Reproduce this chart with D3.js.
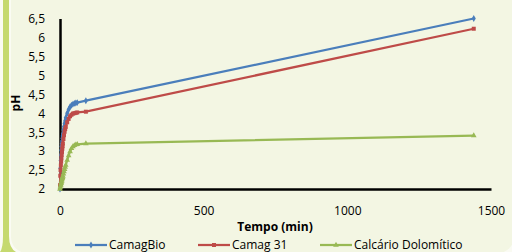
<!DOCTYPE html>
<html>
<head>
<meta charset="utf-8">
<script src="https://cdn.jsdelivr.net/npm/d3@7"></script>
<style>
	body { margin: 0; background: #fafbf3; }
	text { font-family: "Open Sans", sans-serif; }
</style>
</head>
<body>
<div id="chart"></div>
<script>
// tempo (min)
var tempo = [0, 1, 2, 3, 4, 5, 6, 7, 8, 9, 10, 12, 14, 16, 18, 20, 25, 30, 35, 40, 45, 50, 55, 60, 90, 1440];

var camagBio = [2.0, 2.55, 2.75, 2.9, 3.02, 3.12, 3.2, 3.27, 3.34, 3.4, 3.46, 3.56, 3.65, 3.73, 3.8, 3.88, 4.0, 4.1, 4.17, 4.21, 4.24, 4.26, 4.27, 4.28, 4.33, 6.5];
var camag31 = [2.1, 2.35, 2.5, 2.62, 2.72, 2.81, 2.9, 2.98, 3.06, 3.13, 3.2, 3.32, 3.42, 3.51, 3.58, 3.64, 3.76, 3.85, 3.92, 3.96, 3.99, 4.0, 4.01, 4.02, 4.04, 6.23];
var calcario = [2.0, 2.04, 2.08, 2.11, 2.15, 2.18, 2.21, 2.25, 2.28, 2.31, 2.34, 2.4, 2.46, 2.52, 2.58, 2.63, 2.76, 2.88, 2.99, 3.07, 3.12, 3.15, 3.17, 3.18, 3.2, 3.41];

var xTicks = [0, 500, 1000, 1500];
var yTicks = [2, 2.5, 3, 3.5, 4, 4.5, 5, 5.5, 6, 6.5];

var series = [
	{name: 'CamagBio', values: camagBio, color: '#4a7ebb', symbol: d3.symbolDiamond, size: 14},
	{name: 'Camag 31', values: camag31, color: '#be4b48', symbol: d3.symbolSquare, size: 16},
	{name: 'Calcário Dolomítico', values: calcario, color: '#98b954', symbol: d3.symbolTriangle, size: 14}
];

var width = 512, height = 252;

var svg = d3.select('#chart').append('svg')
	.attr('width', width)
	.attr('height', height);

// panel background
svg.append('rect')
	.attr('x', 11).attr('y', -30)
	.attr('width', 503).attr('height', 283)
	.attr('rx', 16).attr('ry', 16)
	.attr('fill', '#f3f6e3');

// green border on the left, flaring at the bottom
svg.append('path')
	.attr('d', 'M3,0 L9,0 L9,236 Q9,248 16,252 L0,252 Q3,248 3,236 Z')
	.attr('fill', '#c5d96f');

var x = d3.scaleLinear().domain([0, 1500]).range([60, 491]);
var y = d3.scaleLinear().domain([2, 6.5]).range([189, 18.5]);

var fmt = function(d) { return String(d).replace('.', ','); };

var gx = svg.append('g')
	.attr('transform', 'translate(0,' + y(2) + ')')
	.call(d3.axisBottom(x).tickValues(xTicks).tickSize(0).tickPadding(17).tickFormat(d3.format('d')));

var gy = svg.append('g')
	.attr('transform', 'translate(' + x(0) + ',0)')
	.call(d3.axisLeft(y).tickValues(yTicks).tickSize(0).tickPadding(15).tickFormat(fmt));

[gx, gy].forEach(function(g) {
	g.select('.domain').attr('stroke', '#000').attr('stroke-width', 2.5);
	g.selectAll('text').attr('font-size', '12px').attr('fill', '#000');
});

var line = d3.line()
	.x(function(d) { return x(d[0]); })
	.y(function(d) { return y(d[1]); });

series.forEach(function(s) {
	var pts = tempo.map(function(t, i) { return [t, s.values[i]]; });

	svg.append('path')
		.datum(pts)
		.attr('fill', 'none')
		.attr('stroke', s.color)
		.attr('stroke-width', 2.25)
		.attr('d', line);

	svg.selectAll('.m' + s.name.length).data(pts).enter().append('path')
		.attr('transform', function(d) { return 'translate(' + x(d[0]) + ',' + y(d[1]) + ')'; })
		.attr('d', d3.symbol().type(s.symbol).size(s.size))
		.attr('fill', s.color);
});

// axis titles
svg.append('text')
	.attr('x', 275).attr('y', 231)
	.attr('text-anchor', 'middle')
	.attr('font-size', '12px')
	.attr('font-weight', 'bold')
	.text('Tempo (min)');

svg.append('text')
	.attr('transform', 'translate(20,103) rotate(-90)')
	.attr('text-anchor', 'middle')
	.attr('font-size', '12px')
	.attr('font-weight', 'bold')
	.text('pH');

// legend
var legendX = [75, 198, 320];
series.forEach(function(s, i) {
	var lg = svg.append('g').attr('transform', 'translate(' + legendX[i] + ',245)');
	lg.append('line')
		.attr('x1', 0).attr('x2', 32)
		.attr('stroke', s.color)
		.attr('stroke-width', 2.25);
	lg.append('path')
		.attr('transform', 'translate(16,0)')
		.attr('d', d3.symbol().type(s.symbol).size(s.size))
		.attr('fill', s.color);
	lg.append('text')
		.attr('x', 34).attr('y', 4.2)
		.attr('font-size', '12px')
		.text(s.name);
});
</script>
</body>
</html>
